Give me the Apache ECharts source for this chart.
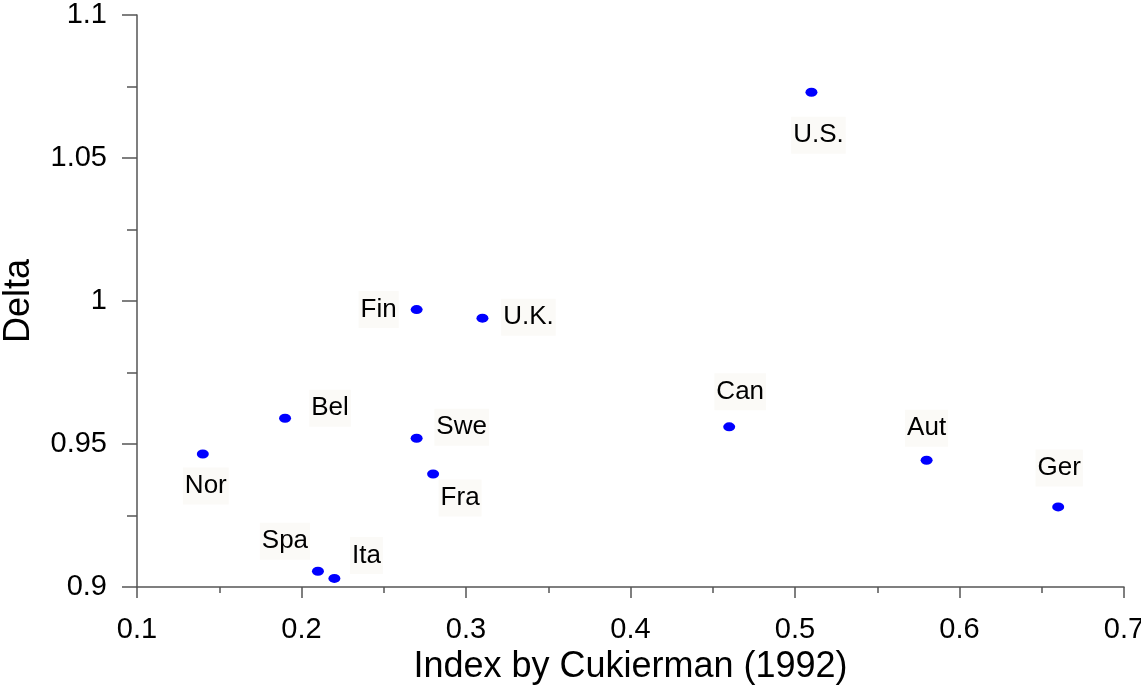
<!DOCTYPE html>
<html>
<head>
<meta charset="utf-8">
<script src="https://cdn.jsdelivr.net/npm/echarts@6/dist/echarts.min.js"></script>
<style>
  html, body { margin: 0; padding: 0; background: #fff; }
  #canvas { width: 1141px; height: 690px; }
</style>
</head>
<body>
<div id="canvas"></div>
<script>
// countries and their values
var countries = ['U.S.', 'Fin', 'U.K.', 'Bel', 'Swe', 'Fra', 'Nor', 'Spa', 'Ita', 'Can', 'Aut', 'Ger'];
var cukierman = [0.51, 0.27, 0.31, 0.19, 0.27, 0.28, 0.14, 0.21, 0.22, 0.46, 0.58, 0.66];
var delta = [1.073, 0.997, 0.994, 0.959, 0.952, 0.9395, 0.9465, 0.9055, 0.903, 0.956, 0.9443, 0.928];

// where each label sits relative to its dot (pixels)
var labelOffset = {
    'U.S.': [7, 43], 'Fin': [-38, 0], 'U.K.': [46, -1], 'Bel': [45, -10],
    'Swe': [45, -11], 'Fra': [27, 24], 'Nor': [3, 32], 'Spa': [-33, -30],
    'Ita': [32, -23], 'Can': [11, -35], 'Aut': [0, -32], 'Ger': [1, -39]
};

var points = countries.map(function (c, i) {
    return {
        name: c,
        value: [cukierman[i], delta[i]],
        label: { offset: labelOffset[c] }
    };
});

var axisLineColor = '#555';
var myChart = echarts.init(document.getElementById('canvas'));
option = {
    animation: false,
    grid: {
        left: 137,
        right: 17,
        top: 15,
        bottom: 103,
        outerBoundsMode: 'none'
    },
    xAxis: {
        type: 'value',
        min: 0.1,
        max: 0.7,
        interval: 0.1,
        name: 'Index by Cukierman (1992)',
        nameLocation: 'middle',
        nameGap: 58,
        nameTextStyle: { fontFamily: 'Liberation Sans', fontSize: 36, color: '#000' },
        axisLine: { lineStyle: { color: axisLineColor, width: 1.5 } },
        axisTick: { length: 11, lineStyle: { color: axisLineColor, width: 1.5 } },
        minorTick: { show: true, splitNumber: 2, length: 6, lineStyle: { color: axisLineColor, width: 1.5 } },
        splitLine: { show: false },
        axisLabel: {
            margin: 28,
            fontFamily: 'Liberation Sans',
            fontSize: 29,
            color: '#000',
            formatter: function (v) { return String(+v.toFixed(2)); }
        }
    },
    yAxis: {
        type: 'value',
        min: 0.9,
        max: 1.1,
        interval: 0.05,
        name: 'Delta',
        nameLocation: 'middle',
        nameGap: 100,
        nameTextStyle: { fontFamily: 'Liberation Sans', fontSize: 36, color: '#000' },
        axisLine: { show: true, lineStyle: { color: axisLineColor, width: 1.5 } },
        axisTick: { show: true, length: 15, lineStyle: { color: axisLineColor, width: 1.5 } },
        minorTick: { show: true, splitNumber: 2, length: 10, lineStyle: { color: axisLineColor, width: 1.5 } },
        splitLine: { show: false },
        axisLabel: {
            margin: 30,
            fontFamily: 'Liberation Sans',
            fontSize: 29,
            color: '#000',
            formatter: function (v) { return String(+v.toFixed(3)); }
        }
    },
    series: [{
        type: 'scatter',
        symbol: 'circle',
        symbolSize: [12, 9],
        itemStyle: { color: '#0000ff', opacity: 1 },
        data: points,
        label: {
            show: true,
            position: 'inside',
            formatter: '{b}',
            fontFamily: 'Liberation Sans',
            fontSize: 26,
            color: '#000',
            backgroundColor: '#fbfaf7',
            padding: [6, 2, 5, 2]
        }
    }]
};
myChart.setOption(option);
</script>
</body>
</html>
